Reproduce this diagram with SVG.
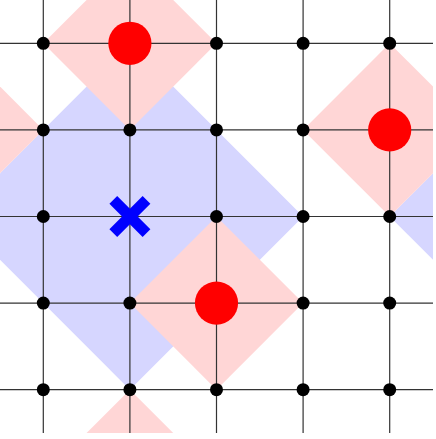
<svg xmlns="http://www.w3.org/2000/svg" width="436" height="439" viewBox="0 0 436 439">
<style>
.blue{fill:#d6d6ff}
.pink{fill:#ffd6d6}
.grid line{stroke:#333;stroke-width:1.2}
.dot{fill:#000}
.red{fill:#ff0000}
.x line{stroke:#0000ff;stroke-width:11}
</style>
<defs>
<clipPath id="c"><rect x="0" y="0" width="433" height="433"/></clipPath>
</defs>
<rect width="436" height="439" fill="#fff"/>
<g clip-path="url(#c)">
<g id="regions">
<polygon class="blue" points="129.9,43.3 303.1,216.5 129.9,389.7 -43.3,216.5"/>
<polygon class="blue" points="562.9,43.3 736.1,216.5 562.9,389.7 389.7,216.5"/>
<polygon class="pink" points="129.9,-43.3 216.5,43.3 129.9,129.9 43.3,43.3"/>
<polygon class="pink" points="129.9,389.7 216.5,476.3 129.9,562.9 43.3,476.3"/>
<polygon class="pink" points="389.7,43.3 476.3,129.9 389.7,216.5 303.1,129.9"/>
<polygon class="pink" points="-43.3,43.3 43.3,129.9 -43.3,216.5 -129.9,129.9"/>
<polygon class="pink" points="216.5,216.5 303.1,303.1 216.5,389.7 129.9,303.1"/>
</g>
<g id="connectors" class="grid">
<line x1="43.3" y1="0" x2="43.3" y2="433"/>
<line x1="129.9" y1="0" x2="129.9" y2="433"/>
<line x1="216.5" y1="0" x2="216.5" y2="433"/>
<line x1="303.1" y1="0" x2="303.1" y2="433"/>
<line x1="389.7" y1="0" x2="389.7" y2="433"/>
<line x1="0" y1="43.3" x2="433" y2="43.3"/>
<line x1="0" y1="129.9" x2="433" y2="129.9"/>
<line x1="0" y1="216.5" x2="433" y2="216.5"/>
<line x1="0" y1="303.1" x2="433" y2="303.1"/>
<line x1="0" y1="389.7" x2="433" y2="389.7"/>
</g>
</g>
<g id="nodes">
<g id="row0">
<circle class="dot" cx="43.3" cy="43.3" r="6.5"/>
<circle class="dot" cx="129.9" cy="43.3" r="6.5"/>
<circle class="dot" cx="216.5" cy="43.3" r="6.5"/>
<circle class="dot" cx="303.1" cy="43.3" r="6.5"/>
<circle class="dot" cx="389.7" cy="43.3" r="6.5"/>
</g>
<g id="row1">
<circle class="dot" cx="43.3" cy="129.9" r="6.5"/>
<circle class="dot" cx="129.9" cy="129.9" r="6.5"/>
<circle class="dot" cx="216.5" cy="129.9" r="6.5"/>
<circle class="dot" cx="303.1" cy="129.9" r="6.5"/>
<circle class="dot" cx="389.7" cy="129.9" r="6.5"/>
</g>
<g id="row2">
<circle class="dot" cx="43.3" cy="216.5" r="6.5"/>
<circle class="dot" cx="129.9" cy="216.5" r="6.5"/>
<circle class="dot" cx="216.5" cy="216.5" r="6.5"/>
<circle class="dot" cx="303.1" cy="216.5" r="6.5"/>
<circle class="dot" cx="389.7" cy="216.5" r="6.5"/>
</g>
<g id="row3">
<circle class="dot" cx="43.3" cy="303.1" r="6.5"/>
<circle class="dot" cx="129.9" cy="303.1" r="6.5"/>
<circle class="dot" cx="216.5" cy="303.1" r="6.5"/>
<circle class="dot" cx="303.1" cy="303.1" r="6.5"/>
<circle class="dot" cx="389.7" cy="303.1" r="6.5"/>
</g>
<g id="row4">
<circle class="dot" cx="43.3" cy="389.7" r="6.5"/>
<circle class="dot" cx="129.9" cy="389.7" r="6.5"/>
<circle class="dot" cx="216.5" cy="389.7" r="6.5"/>
<circle class="dot" cx="303.1" cy="389.7" r="6.5"/>
<circle class="dot" cx="389.7" cy="389.7" r="6.5"/>
</g>
<g id="red1"><circle class="red" cx="129.9" cy="43.3" r="21.6"/></g>
<g id="red2"><circle class="red" cx="389.7" cy="129.9" r="21.6"/></g>
<g id="red3"><circle class="red" cx="216.5" cy="303.1" r="21.6"/></g>
<g id="cross" class="x">
<line x1="113.3" y1="199.9" x2="146.5" y2="233.1"/>
<line x1="146.5" y1="199.9" x2="113.3" y2="233.1"/>
</g>
</g>
</svg>
